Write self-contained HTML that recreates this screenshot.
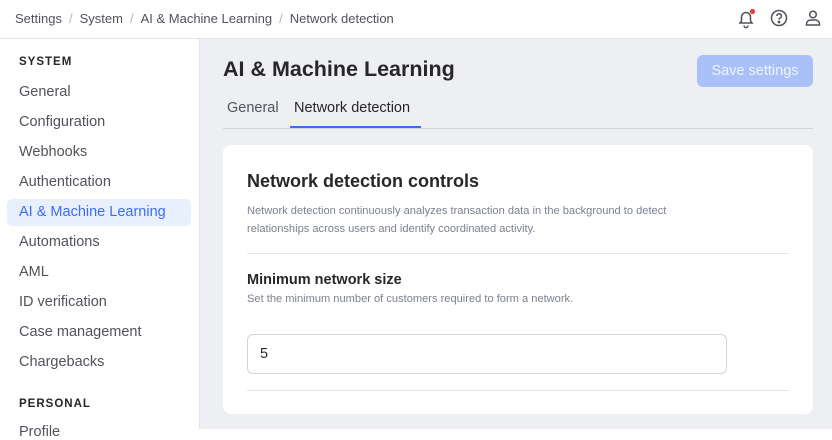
<!DOCTYPE html>
<html><head><meta charset="utf-8"><style>
*{margin:0;padding:0;box-sizing:border-box}
body{width:832px;height:429px;overflow:hidden;background:#fff;font-family:"Liberation Sans",sans-serif;position:relative;color:#27272a}
.a{position:absolute;white-space:nowrap}
.top{left:0;top:0;width:832px;height:39px;border-bottom:1px solid #e4e4e7;background:#fff}
.crumb{top:11px;left:15px;font-size:13px;color:#52525b}
.crumb span{color:#b4b4bb;margin:0 7px}
.side{left:0;top:39px;width:200px;height:390px;background:#fff;border-right:1px solid #e4e4e7}
.main{left:200px;top:39px;width:632px;height:390px;background:#eeeff2}
.sec{font-size:11.5px;font-weight:bold;letter-spacing:1px;color:#27272a;left:19px}
.nav{font-size:14.5px;color:#52525b;left:19px}
.act{left:7px;top:199px;width:184px;height:27px;background:#e8effd;border-radius:5px}
</style></head><body>
<div class="a top"></div>
<div class="a crumb">Settings<span>/</span>System<span>/</span>AI &amp; Machine Learning<span>/</span>Network detection</div>
<svg class="a" style="left:735px;top:8px" width="22" height="22" viewBox="0 0 22 22" fill="none" stroke="#52525b" stroke-width="1.5"><path d="M5 15h12l-1.5-2v-4a4.5 4.5 0 0 0-9 0v4z"/><path d="M9 17.5a2 2 0 0 0 4 0"/><circle cx="17.5" cy="3.5" r="2.6" fill="#e53e3e" stroke="none"/></svg>
<svg class="a" style="left:769px;top:8px" width="20" height="20" viewBox="0 0 20 20" fill="none" stroke="#52525b" stroke-width="1.5"><circle cx="10" cy="10" r="7.5"/><path d="M7.8 8a2.3 2.3 0 1 1 3 2.2c-.6.3-.8.7-.8 1.3"/><circle cx="10" cy="14" r=".6" fill="#52525b"/></svg>
<svg class="a" style="left:803px;top:8px" width="20" height="20" viewBox="0 0 20 20" fill="none" stroke="#52525b" stroke-width="1.5"><circle cx="10" cy="6.5" r="3.3"/><path d="M3.5 17v-1a4 4 0 0 1 4-4h5a4 4 0 0 1 4 4v1z"/></svg>
<div class="a side"></div>
<div class="a main"></div>
<div class="a sec" style="top:56px">SYSTEM</div>
<div class="a act"></div>
<div class="a nav" style="top:84px">General</div>
<div class="a nav" style="top:114px">Configuration</div>
<div class="a nav" style="top:144px">Webhooks</div>
<div class="a nav" style="top:174px">Authentication</div>
<div class="a nav" style="top:204px;color:#3b6ef5">AI &amp; Machine Learning</div>
<div class="a nav" style="top:234px">Automations</div>
<div class="a nav" style="top:264px">AML</div>
<div class="a nav" style="top:294px">ID verification</div>
<div class="a nav" style="top:324px">Case management</div>
<div class="a nav" style="top:354px">Chargebacks</div>
<div class="a sec" style="top:398px">PERSONAL</div>
<div class="a nav" style="top:424px">Profile</div>
<div class="a" style="left:223px;top:57px;font-size:21.5px;font-weight:bold;color:#27272a">AI &amp; Machine Learning</div>
<div class="a" style="left:697px;top:55px;width:116px;height:32px;background:#a9c0f8;border-radius:6px;color:#eef3ff;font-size:14.5px;text-align:center;line-height:32px">Save settings</div>
<div class="a" style="left:223px;top:128px;width:590px;height:1px;background:#d4d4d8"></div>
<div class="a" style="left:227px;top:100px;font-size:14.5px;color:#52525b">General</div>
<div class="a" style="left:294px;top:100px;font-size:14.5px;color:#27272a">Network detection</div>
<div class="a" style="left:290px;top:126px;width:131px;height:2px;background:#3b6ef5"></div>
<div class="a" style="left:223px;top:145px;width:590px;height:269px;background:#fff;border-radius:8px"></div>
<div class="a" style="left:247px;top:171px;font-size:18px;font-weight:bold;color:#27272a">Network detection controls</div>
<div class="a" style="left:247px;top:202px;font-size:11.1px;color:#7c8190;line-height:18px;white-space:normal;width:432px">Network detection continuously analyzes transaction data in the background to detect relationships across users and identify coordinated activity.</div>
<div class="a" style="left:247px;top:253px;width:542px;height:1px;background:#e4e4e7"></div>
<div class="a" style="left:247px;top:272px;font-size:14.5px;font-weight:bold;color:#27272a">Minimum network size</div>
<div class="a" style="left:247px;top:293px;font-size:11.1px;color:#7c8190">Set the minimum number of customers required to form a network.</div>
<div class="a" style="left:247px;top:334px;width:480px;height:40px;border:1px solid #d4d4d8;border-radius:6px;font-size:14.5px;padding:11px 0 0 12px;color:#27272a">5</div>
<div class="a" style="left:247px;top:390px;width:542px;height:1px;background:#e4e4e7"></div>
</body></html>
